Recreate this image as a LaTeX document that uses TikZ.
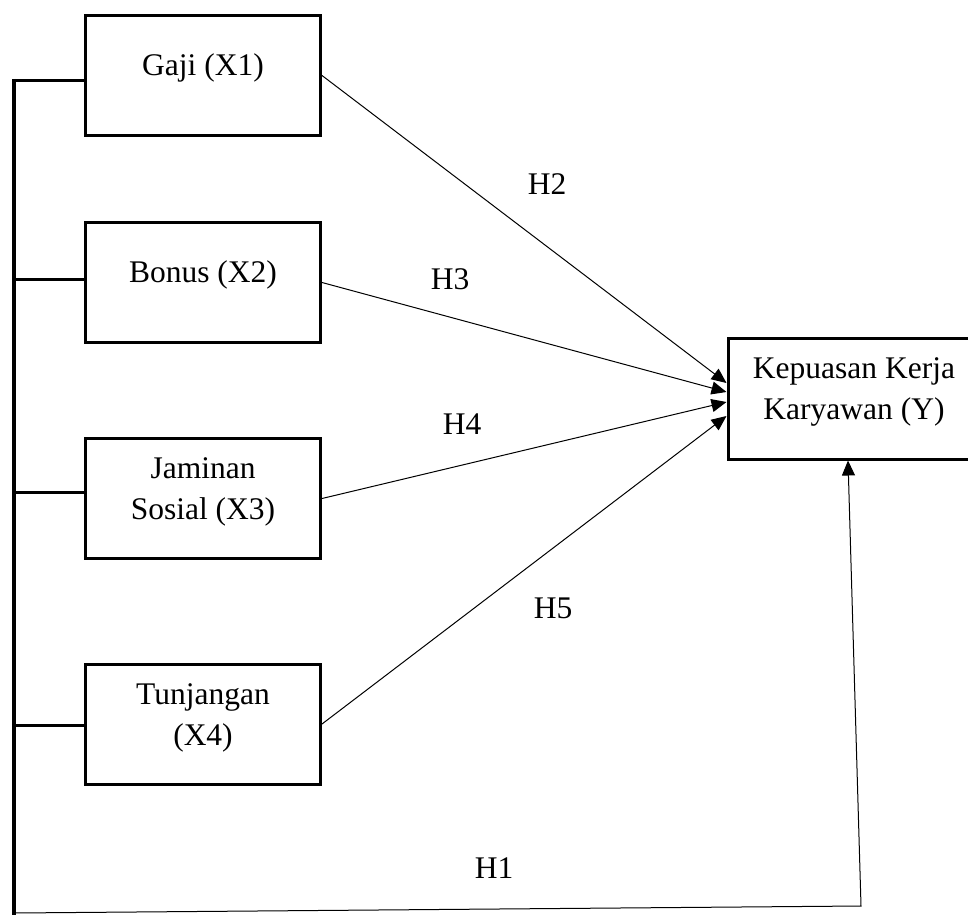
\documentclass[tikz,border=0pt]{standalone}
\usepackage{fontspec}
\setmainfont{Liberation Serif}
\usetikzlibrary{arrows.meta,calc}

\begin{document}
\begin{tikzpicture}[x=0.5pt,y=-0.5pt,>={Triangle[length=7.5pt,width=6.5pt]},
  font=\fontsize{15.75pt}{20.5pt}\selectfont,
  box/.style={draw,line width=1.5pt,inner sep=0pt,minimum width=117.5pt,minimum height=60pt,align=center},
  one/.style={text height=6pt,text depth=6pt},
  two/.style={text height=22pt,text depth=1pt},
  link/.style={line width=1.5pt},
  hyp/.style={line width=0.5pt,->}]
  \useasboundingbox (0,0) rectangle (968,915);

  \node[box,one] (gaji) at (203,75.5) {Gaji (X1)};
  \node[box,one] (bonus) at (203,282.5) {Bonus (X2)};
  \node[box,two] (jaminan) at (203,498.5) {Jaminan\\Sosial (X3)};
  \node[box,two] (tunjangan) at (203,724) {Tunjangan\\(X4)};
  \node[box,two,minimum width=126pt,minimum height=60.5pt] (kepuasan) at (854,398.5) {Kepuasan Kerja\\Karyawan (Y)};

  % garis kiri
  \coordinate (atas) at (14,79);
  \coordinate (bawah) at (14,915);
  \draw[line width=2pt] (atas) -- (bawah);
  \coordinate (c1) at (14,81);
  \coordinate (c2) at (14,279);
  \coordinate (c3) at (14,492);
  \coordinate (c4) at (14,725);
  \draw[link] (c1) -- (c1 -| gaji.west);
  \draw[link] (c2) -- (c2 -| bonus.west);
  \draw[link] (c3) -- (c3 -| jaminan.west);
  \draw[link] (c4) -- (c4 -| tunjangan.west);

  \draw[hyp] (gaji.east) -- ($(kepuasan.west)+(0,-15.5)$);
  \draw[hyp] (bonus.east) -- ($(kepuasan.west)+(0,-6.5)$);
  \draw[hyp] (jaminan.east) -- ($(kepuasan.west)+(0,3.5)$);
  \draw[hyp] (tunjangan.east) -- ($(kepuasan.west)+(0,17.5)$);

  \coordinate (h1a) at (14,913);
  \coordinate (h1b) at (861,906);
  \draw[hyp] (h1a) -- (h1b) -- ($(kepuasan.south)+(-6,0)$);

  \node (h2) at (547,184) {H2};
  \node (h3) at (450,279) {H3};
  \node (h4) at (462,424) {H4};
  \node (h5) at (553,608) {H5};
  \node (h1) at (494,868) {H1};
\end{tikzpicture}
\end{document}
